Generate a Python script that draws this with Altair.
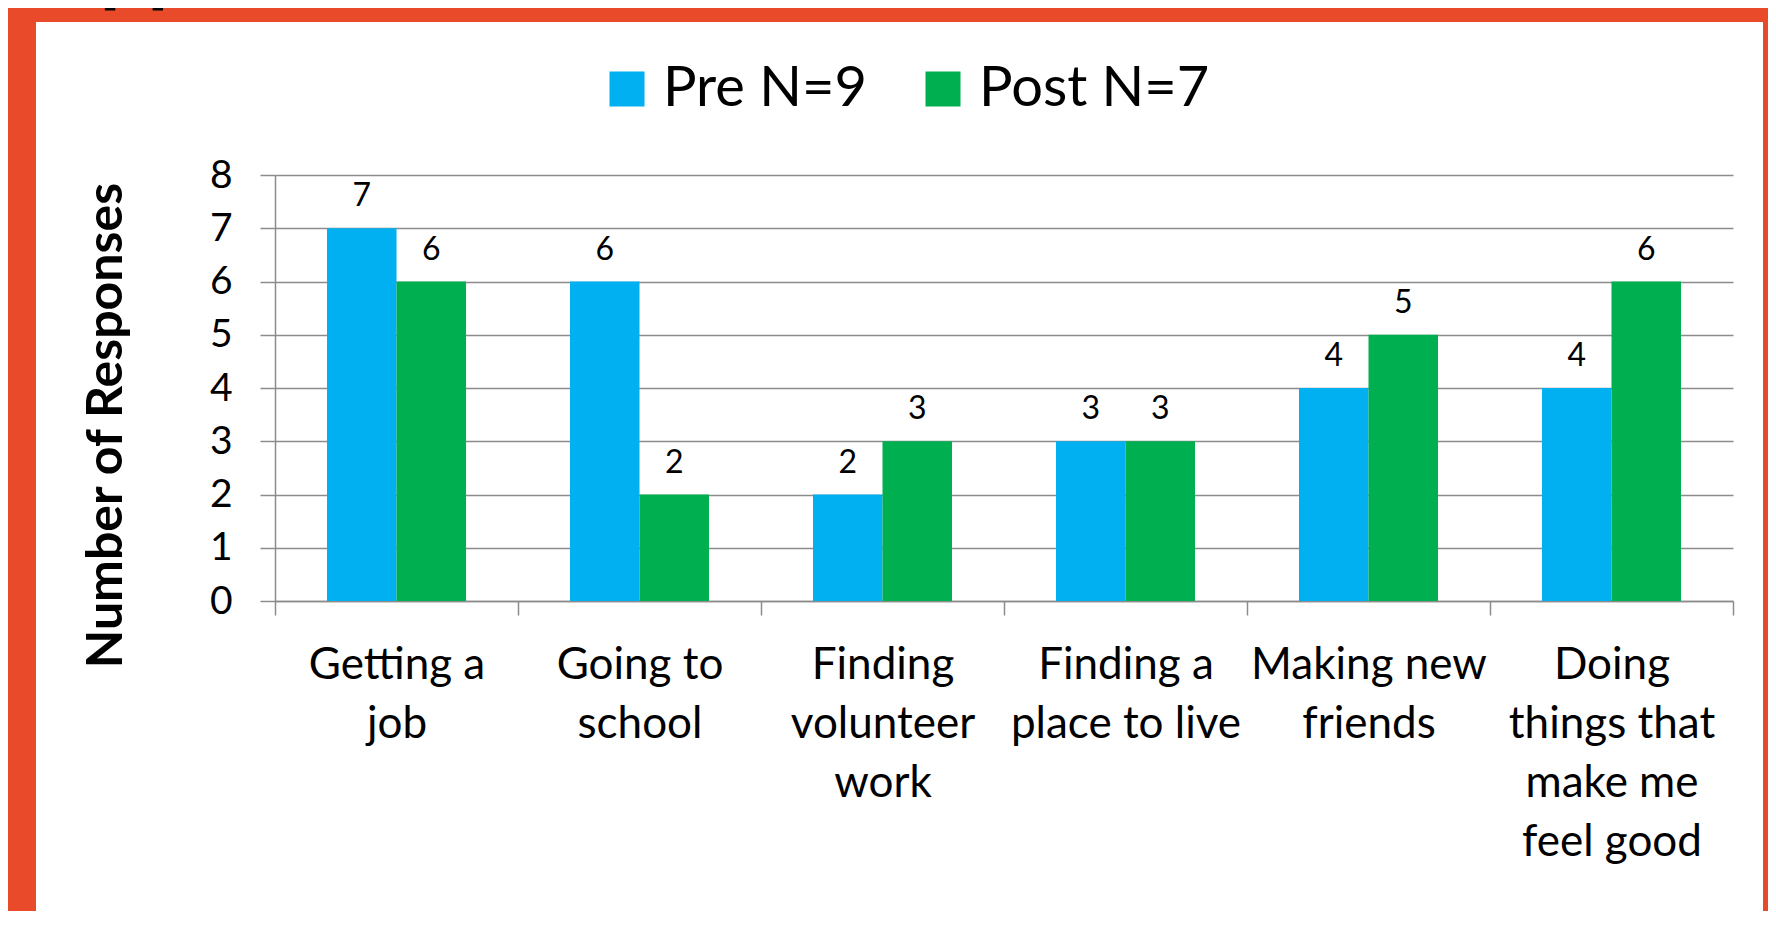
import altair as alt
import pandas as pd

# ---- data ----
categories = [
    "Getting a|job",
    "Going to|school",
    "Finding|volunteer|work",
    "Finding a|place to live",
    "Making new|friends",
    "Doing|things that|make me|feel good",
]
series = ["Pre N=9", "Post N=7"]
pre_values = [7, 6, 2, 3, 4, 4]
post_values = [6, 2, 3, 3, 5, 6]
series_colors = ["#00B0F0", "#00B050"]
y_ticks = [0, 1, 2, 3, 4, 5, 6, 7, 8]

rows = []
for c, a, b in zip(categories, pre_values, post_values):
    rows.append({"category": c, "series": series[0], "value": a})
    rows.append({"category": c, "series": series[1], "value": b})
df = pd.DataFrame(rows)

W, H = 1458, 426
ORANGE = "#E84A2A"
GRID = "#8C8C8C"
FONT = "Lato"

one = alt.Data(values=[{"k": 0}])

# decorative frame (orange border around the white slide area)
left_strip = alt.Chart(one).mark_rect(color=ORANGE).encode(
    x=alt.value(-300), x2=alt.value(-239), y=alt.value(-300), y2=alt.value(800))
top_strip = alt.Chart(one).mark_rect(color=ORANGE).encode(
    x=alt.value(-300), x2=alt.value(1600), y=alt.value(-300), y2=alt.value(-153))
right_strip = alt.Chart(one).mark_rect(color=ORANGE).encode(
    x=alt.value(1488), x2=alt.value(1600), y=alt.value(-300), y2=alt.value(800))
cut_title = alt.Chart(one).mark_text(
    align="left", baseline="alphabetic", fontSize=84, fontWeight="bold",
    font=FONT, color="black").encode(
    x=alt.value(-268), y=alt.value(-179), text=alt.value("Support"))

x_enc = alt.X(
    "category:N", sort=categories,
    scale=alt.Scale(paddingInner=0, paddingOuter=0),
    axis=alt.Axis(
        title=None, labelExpr="split(datum.label, '|')", labelAngle=0,
        tickBand="extent", tickSize=14, tickColor=GRID, tickWidth=1.5,
        domainColor=GRID, domainWidth=1.5, grid=False,
        labelFont=FONT, labelFontSize=44, labelLineHeight=59,
        labelPadding=28, labelLimit=400, labelColor="black",
        labelBaseline="top"),
)
xoff_enc = alt.XOffset(
    "series:N", sort=series,
    scale=alt.Scale(paddingInner=0, paddingOuter=0.748))
y_enc = alt.Y(
    "value:Q",
    scale=alt.Scale(domain=[0, 8], nice=False),
    axis=alt.Axis(
        values=y_ticks, title="Number of Responses",
        titleFont=FONT, titleFontSize=50, titleFontWeight="bold",
        titleColor="black", titleAngle=-90, titleX=-169, titleY=250,
        titleAlign="center", titleBaseline="middle",
        grid=True, gridColor=GRID, gridWidth=1.5,
        tickSize=15, tickColor=GRID, tickWidth=1.5,
        domainColor=GRID, domainWidth=1.5,
        labelFont=FONT, labelFontSize=39, labelPadding=28,
        labelColor="black"),
)
color_enc = alt.Color(
    "series:N", sort=series,
    scale=alt.Scale(domain=series, range=series_colors),
    legend=alt.Legend(
        title=None, orient="none", legendX=324, legendY=-114,
        direction="horizontal", symbolType="square", symbolSize=1225,
        symbolStrokeWidth=0, symbolOpacity=1, labelFont=FONT,
        labelFontSize=56, labelOffset=8, columnPadding=48,
        labelColor="black", padding=0, labelLimit=600),
)

bars = alt.Chart(df).mark_bar(opacity=1).encode(
    x=x_enc, xOffset=xoff_enc, y=y_enc, color=color_enc)

labels = alt.Chart(df).mark_text(
    font=FONT, fontSize=32, baseline="alphabetic", dy=-22, color="black"
).encode(x=x_enc, xOffset=xoff_enc, y=y_enc, text="value:Q")

chart = alt.layer(
    left_strip, top_strip, right_strip, cut_title, bars, labels
).properties(
    width=W, height=H,
    autosize=alt.AutoSizeParams(type="none"),
    padding={"left": 267, "top": 167, "right": 35, "bottom": 310},
    background="white",
).configure_view(stroke=None)

chart.save("out.html", embed_options={"renderer": "svg", "actions": False})
